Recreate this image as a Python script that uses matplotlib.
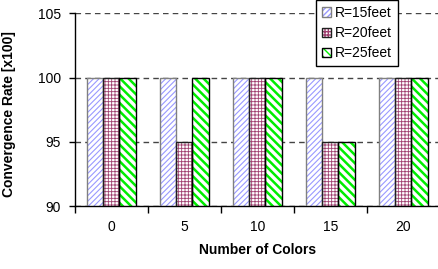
import matplotlib
matplotlib.use("Agg")
import matplotlib.pyplot as plt
import numpy as np
from matplotlib.patches import Patch

plt.rcParams['font.family'] = ['Liberation Sans', 'DejaVu Sans']
plt.rcParams['font.size'] = 10

categories = ["0", "5", "10", "15", "20"]
series_names = ["R=15feet", "R=20feet", "R=25feet"]
r15 = [100, 100, 100, 100, 100]
r20 = [100, 95, 100, 95, 100]
r25 = [100, 100, 100, 95, 100]
yticks = [90, 95, 100, 105]

values = [r15, r20, r25]
hatches = ['//////', '+++++', '\\\\\\\\']
hatch_colors = ['#9999ff', '#a04070', '#00ee00']
hatch_lw = [0.8, 0.6, 1.8]
edge_colors = ['#808080', '#202020', '#000000']

fig = plt.figure(figsize=(4.38, 2.69), dpi=100)
ax = fig.add_axes([74.7 / 438, 1 - 206.3 / 269, 365 / 438, (206.3 - 13.3) / 269])

x = np.arange(len(categories))
w = 0.223
handles = []
for i, (vals, h, hc, hl, ec) in enumerate(zip(values, hatches, hatch_colors, hatch_lw, edge_colors)):
    pos = x + (i - 1) * w
    with plt.rc_context({'hatch.linewidth': hl}):
        ax.bar(pos, vals, width=w, color='white', hatch=h, edgecolor=hc, linewidth=0, zorder=2)
    ax.bar(pos, vals, width=w, fill=False, edgecolor=ec, linewidth=1.0, zorder=3)
    with plt.rc_context({'hatch.linewidth': hl}):
        hp = Patch(facecolor='white', hatch=h, edgecolor=hc, linewidth=0)
    bp = Patch(fill=False, edgecolor=ec, linewidth=1.0)
    handles.append((hp, bp))

ax.set_ylim(90, 105)
ax.set_xlim(-0.5, len(categories) - 0.5)
ax.set_yticks(yticks)
ax.set_xticks(x)
ax.set_xticklabels(categories)
ax.set_xticks(np.arange(-0.5, len(categories), 1.0), minor=True)
ax.tick_params(axis='x', which='major', length=0, pad=10)
ax.tick_params(axis='x', which='minor', length=5, width=1, direction='out')
ax.tick_params(axis='y', length=4, width=1, direction='out', pad=6)

ax.yaxis.grid(True, linestyle=(0, (4, 3)), color='#444444', linewidth=1.0, zorder=1)
ax.set_axisbelow(True)
ax.spines['top'].set_visible(False)
ax.spines['right'].set_visible(False)
ax.spines['left'].set_linewidth(1.0)
ax.spines['bottom'].set_linewidth(1.0)

ax.set_xlabel("Number of Colors", fontweight='bold')
ax.set_ylabel("Convergence Rate [x100]", fontweight='bold')
ax.xaxis.set_label_coords(0.5, -0.19)
ax.yaxis.set_label_coords(-0.16, 0.48)

leg = fig.legend(handles, series_names, loc='upper left',
                 bbox_to_anchor=(315.7 / 438, 1.0), bbox_transform=fig.transFigure,
                 frameon=True, fancybox=False, edgecolor='black', framealpha=1,
                 handlelength=0.65, handleheight=0.65, handletextpad=0.3,
                 borderpad=0.42, labelspacing=0.45, borderaxespad=0.0)
leg.get_frame().set_linewidth(1.0)

fig.savefig("out.png", dpi=100)
